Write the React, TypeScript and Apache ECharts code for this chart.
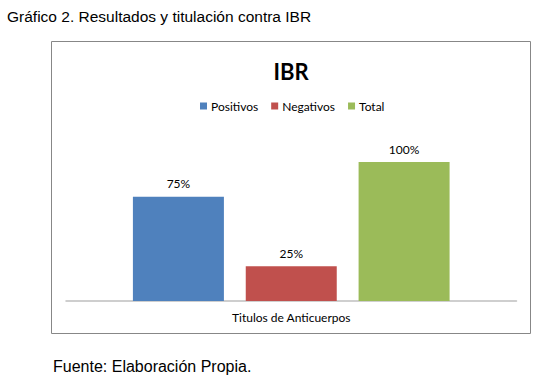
import React, { useEffect, useRef } from "react";
import * as echarts from "echarts";

const categories = ["Titulos de Anticuerpos"];
const seriesNames = ["Positivos", "Negativos", "Total"];
const positivos = [75];
const negativos = [25];
const total = [100];
const colors = ["#4F81BD", "#C0504D", "#9BBB59"];
const chartTitle = "IBR";
const headerText = "Gráfico 2. Resultados y titulación contra IBR";
const footerText = "Fuente: Elaboración Propia.";

export default function App() {
  const ref = useRef<HTMLDivElement>(null);
  useEffect(() => {
    if (!ref.current) return;
    const chart = echarts.init(ref.current, null, { renderer: "svg" });
    const values = [positivos, negativos, total];
    const labelFont = "Lato, 'Noto Sans', sans-serif";
    chart.setOption({
      animation: false,
      backgroundColor: "#ffffff",
      title: {
        text: chartTitle,
        left: 291,
        textAlign: "center",
        top: 60,
        padding: 0,
        textStyle: { fontFamily: labelFont, fontWeight: "bold", fontSize: 22, color: "#000" },
      },
      legend: {
        data: seriesNames,
        left: 200,
        top: 100,
        padding: 0,
        itemWidth: 7,
        itemHeight: 7,
        itemGap: 13,
        icon: "rect",
        textStyle: { fontFamily: labelFont, fontSize: 12, color: "#000", padding: [0, 0, 0, -1] },
      },
      grid: { left: 66, right: 26.5, top: 162, bottom: 79, containLabel: false },
      xAxis: {
        type: "category",
        data: categories,
        axisTick: { show: false },
        axisLine: { lineStyle: { color: "#BFBFBF", width: 1.5 } },
        axisLabel: { fontFamily: labelFont, fontSize: 12, color: "#000", margin: 10 },
      },
      yAxis: {
        type: "value",
        min: 0,
        max: 100,
        show: false,
        splitLine: { show: false },
      },
      series: seriesNames.map((name, i) => ({
        name,
        type: "bar",
        data: values[i],
        barWidth: 91,
        barGap: "24%",
        itemStyle: { color: colors[i] },
        label: {
          show: true,
          position: "top",
          distance: 7,
          formatter: "{c}%",
          fontFamily: labelFont,
          fontSize: 12,
          color: "#000",
        },
      })),
      graphic: [
        {
          type: "rect",
          shape: { x: 51.5, y: 41.5, width: 479, height: 292 },
          style: { fill: "none", stroke: "#878787", lineWidth: 1 },
          silent: true,
          z: -1,
        },
        {
          type: "text",
          x: 7,
          y: 16,
          style: {
            text: headerText,
            font: "15.5px 'Liberation Sans', Arial, sans-serif",
            fill: "#000",
            verticalAlign: "middle",
          },
        },
        {
          type: "text",
          x: 53,
          y: 366,
          style: {
            text: footerText,
            font: "16px 'Liberation Sans', Arial, sans-serif",
            fill: "#000",
            verticalAlign: "middle",
          },
        },
      ],
    });
    return () => chart.dispose();
  }, []);
  return (
    <div
      ref={ref}
      style={{ position: "fixed", left: 0, top: 0, width: 543, height: 380 }}
    />
  );
}
